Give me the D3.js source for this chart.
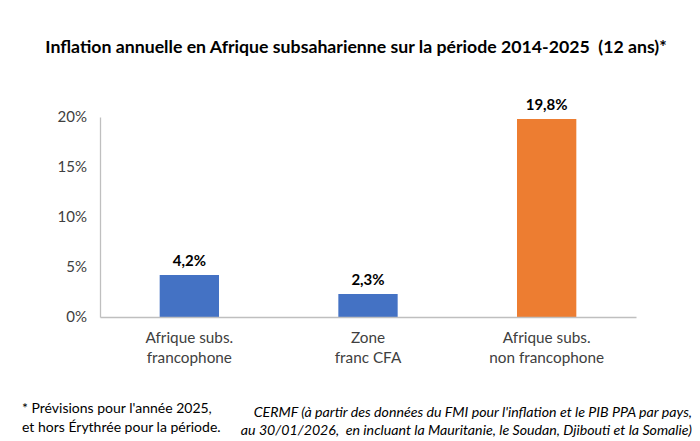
<!DOCTYPE html>
<html><head><meta charset="utf-8">
<script src="https://cdn.jsdelivr.net/npm/d3@7"></script>
<style>
html,body{margin:0;padding:0;background:#fff;}
svg{display:block;font-family:Lato, "Open Sans", sans-serif;}
</style></head>
<body>
<svg id="chart" width="700" height="441"></svg>
<script>
const categories = [["Afrique subs.","francophone"],["Zone","franc CFA"],["Afrique subs.","non francophone"]];
const values = [4.2, 2.3, 19.8];
const valueLabels = ["4,2%","2,3%","19,8%"];
const colors = ["#4472C4","#4472C4","#ED7D31"];
const yTicks = [0,5,10,15,20];
const title = "Inflation annuelle en Afrique subsaharienne sur la période 2014-2025  (12 ans)*";
const noteLeft = ["* Prévisions pour l'année 2025,","et hors Érythrée pour la période."];
const noteRight = ["CERMF (à partir des données du FMI pour l'inflation et le PIB PPA par pays,","au 30/01/2026,  en incluant la Mauritanie, le Soudan, Djibouti et la Somalie)"];

const svg = d3.select("#chart");
const m = {left:100, right:64, top:117, bottom:124};
const W = 700, H = 441;
const x = d3.scaleBand().domain(d3.range(values.length)).range([m.left, W-m.right]).paddingInner(0.668).paddingOuter(0.334);
const y = d3.scaleLinear().domain([0,20]).range([H-m.bottom, m.top]);

svg.append("text").attr("x",356).attr("y",53).attr("text-anchor","middle")
  .attr("font-weight","bold").attr("font-size",17.7).attr("fill","#000")
  .attr("xml:space","preserve").style("white-space","pre").text(title);

// y axis
const ya = svg.append("g").attr("transform",`translate(${m.left},0)`)
  .call(d3.axisLeft(y).tickValues(yTicks).tickSize(0).tickPadding(13).tickFormat(d=>d+"%"));
ya.select(".domain").attr("stroke","#bfbfbf").attr("stroke-width",1.3);
ya.selectAll("text").attr("font-size",15).attr("fill","#404040").attr("font-family","Lato, sans-serif");

// bars
svg.selectAll("rect.bar").data(values).join("rect").attr("class","bar")
  .attr("x",(d,i)=>x(i)).attr("width",x.bandwidth())
  .attr("y",d=>y(d)).attr("height",d=>y(0)-y(d))
  .attr("fill",(d,i)=>colors[i]);

// x axis
const xa = svg.append("g").attr("transform",`translate(0,${y(0)})`)
  .call(d3.axisBottom(x).tickSize(0).tickFormat(""));
xa.select(".domain").attr("stroke","#bfbfbf").attr("stroke-width",1.3);

// category labels
categories.forEach((c,i)=>{
  const t = svg.append("text").attr("text-anchor","middle").attr("font-size",15.3).attr("fill","#404040");
  c.forEach((line,j)=>t.append("tspan").attr("x",x(i)+x.bandwidth()/2).attr("y",y(0)+26+j*20).text(line));
});

// value labels
svg.selectAll("text.val").data(values).join("text").attr("class","val")
  .attr("x",(d,i)=>x(i)+x.bandwidth()/2).attr("y",d=>y(d)-9)
  .attr("text-anchor","middle").attr("font-weight","bold").attr("font-size",15).attr("fill","#000")
  .text((d,i)=>valueLabels[i]);

// notes
const nl = svg.append("text").attr("font-size",14).attr("fill","#000");
noteLeft.forEach((l,j)=>nl.append("tspan").attr("x",22).attr("y",413+j*19).text(l));
const nr = svg.append("text").attr("font-size",14.2).attr("font-style","italic").attr("fill","#000").attr("text-anchor","end");
noteRight.forEach((l,j)=>nr.append("tspan").attr("x",692).attr("y",417+j*18).attr("xml:space","preserve").style("white-space","pre").text(l));
</script>
</body></html>
